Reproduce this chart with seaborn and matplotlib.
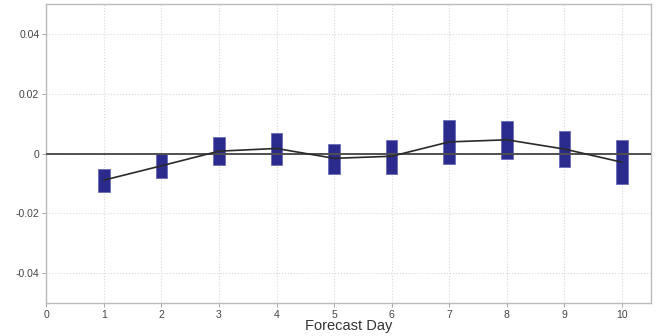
import numpy as np
import pandas as pd
import seaborn as sns
import matplotlib
matplotlib.use('Agg')
from matplotlib import pyplot as plt
from matplotlib.ticker import FuncFormatter

# forecast day and error bands
days = [1, 2, 3, 4, 5, 6, 7, 8, 9, 10]
mean_err = [-0.0089, -0.0041, 0.0008, 0.0017, -0.0016, -0.0009, 0.0039, 0.0046, 0.0015, -0.0029]
low_err = [-0.0129, -0.0083, -0.0037, -0.0037, -0.0067, -0.0070, -0.0035, -0.0017, -0.0044, -0.0102]
high_err = [-0.0052, -0.0002, 0.0054, 0.0070, 0.0032, 0.0046, 0.0113, 0.0108, 0.0074, 0.0046]

df = pd.DataFrame({'day': days, 'mean': mean_err, 'low': low_err, 'high': high_err})

sns.set_style('whitegrid')
plt.rcParams['font.family'] = ['Liberation Sans', 'DejaVu Sans']

fig, ax = plt.subplots(figsize=(6.6, 3.36), dpi=100)
fig.subplots_adjust(left=0.07, right=0.986, top=0.988, bottom=0.098)

ax.bar(df['day'], df['high'] - df['low'], bottom=df['low'], width=0.2,
       color='#2b2b8e', edgecolor='#6b6bb8', linewidth=0.6, zorder=3)
ax.axhline(0, color='#505050', linewidth=1.4, zorder=4)
sns.lineplot(data=df, x='day', y='mean', ax=ax, color='#2a2a2a', linewidth=1.2, zorder=5)

ax.set_xlim(0, 10.5)
ax.set_ylim(-0.05, 0.05)
ax.set_xticks(range(0, 11))
ax.set_yticks([-0.04, -0.02, 0, 0.02, 0.04])
ax.yaxis.set_major_formatter(FuncFormatter(lambda v, p: '0' if abs(v) < 1e-9 else f'{v:g}'))
ax.grid(True, color='#d8d8d8', linestyle=':', linewidth=0.8)
for s in ax.spines.values():
    s.set_color('#bbbbbb')
    s.set_linewidth(1.0)
ax.tick_params(axis='both', labelsize=7.5, colors='#444444', length=3, width=0.6,
               direction='out', left=True, bottom=True, color='#999999', pad=2)
ax.set_xlabel('Forecast Day', fontsize=10.5, color='#333333', labelpad=-1)
ax.set_ylabel('')

fig.savefig('out.png', dpi=100)
